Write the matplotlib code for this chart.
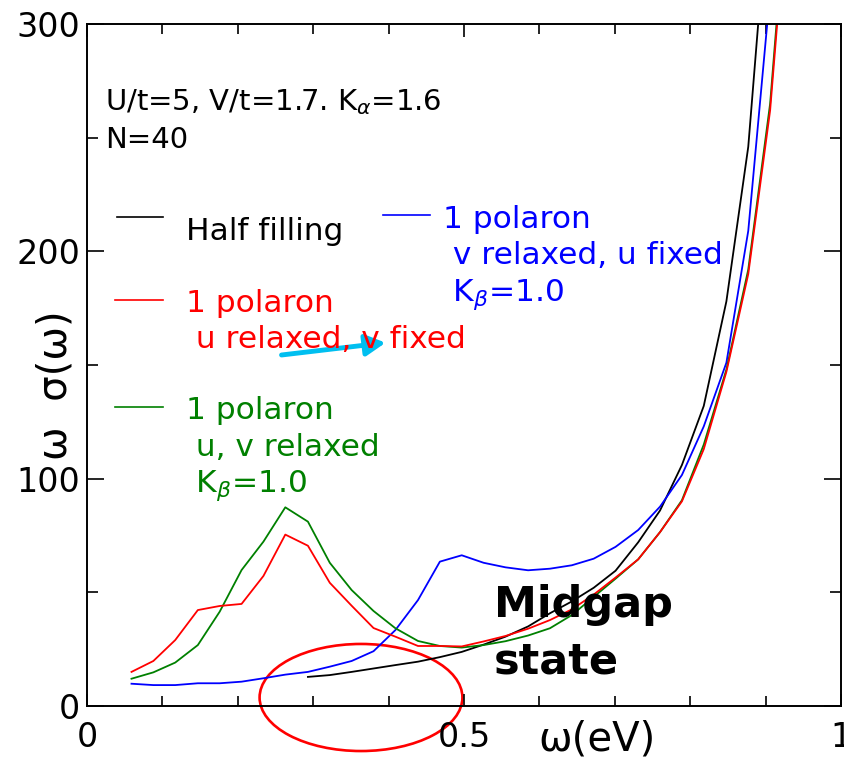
import matplotlib
matplotlib.use("Agg")
import matplotlib.pyplot as plt
from matplotlib.patches import Ellipse
from matplotlib.lines import Line2D
from matplotlib.ticker import MultipleLocator

plt.rcParams['font.family'] = ['DejaVu Sans']
plt.rcParams['mathtext.fontset'] = 'dejavusans'

# ---- data ----
omega = [0.059, 0.088, 0.117, 0.147, 0.176, 0.205, 0.234, 0.263, 0.293, 0.322,
         0.351, 0.380, 0.409, 0.439, 0.468, 0.497, 0.526, 0.555, 0.585, 0.614,
         0.643, 0.672, 0.701, 0.731, 0.760, 0.789, 0.818, 0.848, 0.877, 0.906,
         0.935]

half_filling = [12.8, 13.6, 15.0, 16.5, 18.0, 19.5, 21.5, 23.8, 27.0, 30.5, 35.0,
                40.8, 46.0, 52.0, 59.5, 72.0, 86.0, 106.0, 132.0, 178.0, 246.0, 365.0]
omega_half = omega[8:30]

u_relaxed = [15.0, 19.8, 29.0, 42.2, 44.0, 44.9, 57.2, 75.4, 70.5, 54.2, 44.1,
             34.3, 30.5, 26.4, 26.4, 26.2, 28.4, 30.8, 34.0, 37.8, 42.5, 49.0,
             56.5, 64.5, 76.5, 90.0, 113.0, 147.0, 190.0, 262.0, 380.0]

uv_relaxed = [12.0, 14.8, 19.1, 26.8, 41.5, 59.8, 72.3, 87.4, 81.1, 63.0, 51.0,
              41.8, 34.2, 28.6, 26.4, 25.7, 26.8, 28.5, 31.0, 34.2, 40.0, 48.0,
              56.0, 64.5, 76.5, 90.5, 115.0, 148.0, 192.0, 265.0, 385.0]

v_relaxed = [9.8, 9.2, 9.2, 10.0, 10.0, 10.7, 12.2, 13.8, 15.0, 17.3, 19.8,
             24.1, 33.4, 46.6, 63.5, 66.3, 63.0, 61.0, 59.7, 60.4, 61.9, 64.8,
             70.0, 77.4, 87.7, 101.6, 123.0, 151.0, 209.0, 314.0]
omega_v = omega[0:30]

W, H = 844, 764
fig = plt.figure(figsize=(W / 100, H / 100), dpi=100)
ax = fig.add_axes([87 / W, 1 - 706 / H, (841 - 87) / W, (706 - 24) / H])


def fx(px):
    return px / W


def fy(py):
    return 1 - py / H


lw = 1.3
ax.plot(omega_half, half_filling, color='black', lw=lw)
ax.plot(omega_v, v_relaxed, color='#0000ff', lw=lw)
ax.plot(omega, uv_relaxed, color='#008000', lw=lw)
ax.plot(omega, u_relaxed, color='#ff0000', lw=lw)

ax.set_xlim(0, 1)
ax.set_ylim(0, 300)
ax.xaxis.set_minor_locator(MultipleLocator(0.1))
ax.yaxis.set_major_locator(MultipleLocator(100))
ax.yaxis.set_minor_locator(MultipleLocator(50))
ax.set_xticks([0, 0.5, 1])
ax.set_xticklabels(['0', '0.5', '1'])
ax.tick_params(which='both', direction='in', top=True, right=True, width=1.2)
ax.tick_params(axis='x', which='major', length=9, pad=11, labelsize=24)
ax.tick_params(axis='x', which='minor', length=7)
ax.tick_params(axis='y', which='major', length=12, pad=5, labelsize=24)
ax.tick_params(axis='y', which='minor', length=8)
for s in ax.spines.values():
    s.set_linewidth(1.4)

# axis labels
fig.text(fx(597), fy(740), 'ω(eV)', fontsize=29, ha='center', va='center')
fig.text(fx(56), fy(385), 'ω  σ(ω)', fontsize=29, ha='center', va='center',
         rotation=90)

# annotation text
fig.text(fx(105), fy(110), r'U/t=5, V/t=1.7. K$_{\alpha}$=1.6', fontsize=21,
         va='baseline')
fig.text(fx(105), fy(148), 'N=40', fontsize=21, va='baseline')

# manual legend
fs = 22.5
entries = [
    ('black', 117, 163, 217, 186, 240, ['Half filling']),
    ('#ff0000', 115, 163, 300, 186, 312, ['1 polaron', ' u relaxed, v fixed']),
    ('#008000', 115, 163, 407, 186, 419, ['1 polaron', ' u, v relaxed', r' K$_{\beta}$=1.0']),
    ('#0000ff', 383, 430, 215, 443, 228, ['1 polaron', ' v relaxed, u fixed', r' K$_{\beta}$=1.0']),
]
for col, x0, x1, ly, tx, ty, lines in entries:
    fig.add_artist(Line2D([fx(x0), fx(x1)], [fy(ly), fy(ly)], color=col, lw=1.2,
                          transform=fig.transFigure))
    for i, t in enumerate(lines):
        fig.text(fx(tx), fy(ty + 36.5 * i), t, fontsize=fs, color=col, va='baseline')

# Midgap state
fig.text(fx(494), fy(617), 'Midgap', fontsize=31, fontweight='bold', va='baseline')
fig.text(fx(494), fy(673), 'state', fontsize=31, fontweight='bold', va='baseline')

# red ellipse
ax.add_patch(Ellipse((0.3634, 3.74), 0.269, 47.1, fill=False, ec='#ff0000', lw=1.9,
                     clip_on=False))

# cyan arrow
ax.annotate('', xy=(0.396, 159.8), xytext=(0.258, 154.4),
            arrowprops=dict(arrowstyle='-|>,head_length=0.75,head_width=0.4',
                            color='#00bff0', lw=3.5, mutation_scale=16,
                            shrinkA=0, shrinkB=0))

fig.savefig('out.png', dpi=100)
